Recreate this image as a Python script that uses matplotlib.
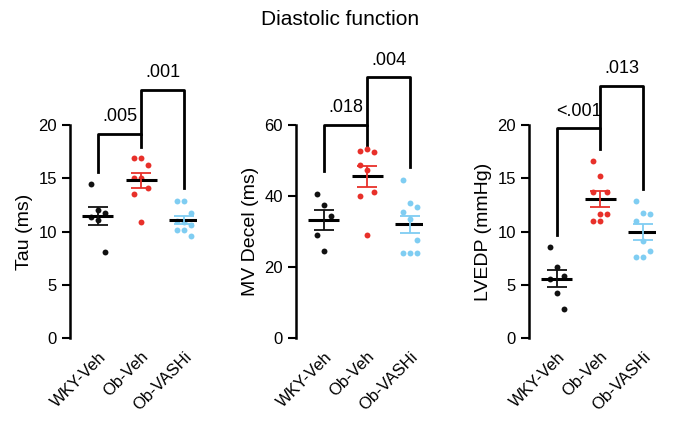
import numpy as np
import matplotlib
matplotlib.use("Agg")
import matplotlib.pyplot as plt

plt.rcParams['font.family'] = ['Liberation Sans', 'DejaVu Sans']

groups = ["WKY-Veh", "Ob-Veh", "Ob-VASHi"]
colors = ["#111111", "#e8302a", "#7fcdf2"]

tau = [[14.5, 12.05, 11.7, 11.4, 11.1, 8.1],
       [16.9, 16.9, 16.2, 15.0, 15.0, 14.1, 13.5, 10.9],
       [12.9, 12.9, 11.7, 11.0, 10.9, 10.6, 10.1, 10.1, 9.6]]
mvdecel = [[40.5, 37.5, 34.5, 29.0, 24.5],
           [52.6, 53.3, 52.3, 48.8, 47.3, 41.2, 40.1, 28.9],
           [44.5, 37.9, 36.9, 35.6, 33.5, 27.5, 24.0, 24.0, 24.0]]
lvedp = [[8.5, 6.7, 5.8, 5.5, 4.2, 2.7],
         [16.6, 15.2, 13.7, 13.7, 11.6, 11.6, 11.0, 11.0],
         [12.85, 11.7, 11.6, 11.0, 9.1, 8.2, 7.6, 7.6]]

panels = [
    dict(data=tau, ylabel="Tau (ms)", ylim=20, ticks=[0, 5, 10, 15, 20],
         b1=(15.6, 17.9, 19.2, ".005"), b2=(19.2, 14.1, 23.3, ".001")),
    dict(data=mvdecel, ylabel="MV Decel (ms)", ylim=60, ticks=[0, 20, 40, 60],
         b1=(47, 54, 60, ".018"), b2=(60, 48.3, 73.4, ".004")),
    dict(data=lvedp, ylabel="LVEDP (mmHg)", ylim=20, ticks=[0, 5, 10, 15, 20],
         b1=(9.7, 17.7, 19.7, "<.001"), b2=(19.7, 14.0, 23.7, ".013")),
]

fig = plt.figure(figsize=(6.8, 4.41), dpi=100)
fig.text(0.5, 0.955, "Diastolic function", ha="center", va="center", fontsize=15)
lefts = [70, 296, 529]
W, H = 680, 441
for p, left in zip(panels, lefts):
    ax = fig.add_axes([left / W, (H - 338) / H, 127 / W, (338 - 125) / H])
    for i, (vals, c) in enumerate(zip(p["data"], colors)):
        vals = np.array(vals)
        n = len(vals)
        offs = (np.arange(n) % 3 - 1) * 0.16
        ax.scatter(i + offs, vals, s=18, color=c, zorder=3, linewidths=0)
        m = vals.mean()
        se = vals.std(ddof=1) / np.sqrt(n)
        ax.hlines(m, i - 0.36, i + 0.36, color="black", lw=2.2, zorder=4)
        ax.errorbar(i, m, yerr=se, color=c, capsize=7, lw=1.3, capthick=1.3, zorder=5)
    ax.set_xlim(-0.65, 2.3)
    ax.set_ylim(0, p["ylim"])
    ax.set_yticks(p["ticks"])
    ax.set_xticks(range(3))
    ax.set_xticklabels(groups, rotation=45, ha="right", rotation_mode="anchor", fontsize=12)
    ax.tick_params(axis="x", length=0, pad=8)
    ax.tick_params(axis="y", width=1.5, length=6, labelsize=12)
    for s in ["top", "right", "bottom"]:
        ax.spines[s].set_visible(False)
    ax.spines["left"].set_linewidth(1.8)
    ax.set_ylabel(p["ylabel"], fontsize=14)
    yl, yr, yt, t = p["b1"]
    ax.plot([0, 0, 1, 1], [yl, yt, yt, yr], color="black", lw=2, clip_on=False)
    ax.text(0.5, yt + p["ylim"] * 0.04, t, ha="center", va="bottom", fontsize=13)
    yl, yr, yt, t = p["b2"]
    ax.plot([1, 1, 2, 2], [yl, yt, yt, yr], color="black", lw=2, clip_on=False)
    ax.text(1.5, yt + p["ylim"] * 0.04, t, ha="center", va="bottom", fontsize=13)

fig.savefig("out.png", dpi=100)
